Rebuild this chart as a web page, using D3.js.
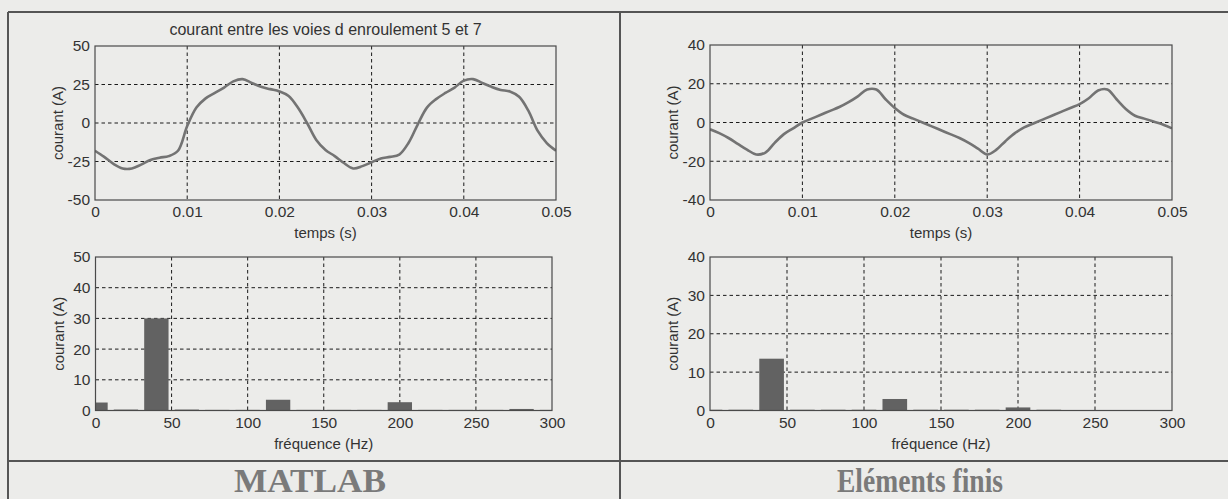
<!DOCTYPE html>
<html><head><meta charset="utf-8">
<script src="https://cdn.jsdelivr.net/npm/d3@7"></script>
<style>
html,body{margin:0;padding:0;background:#ececea;}
svg{display:block;}
</style></head>
<body>
<svg id="chart" width="1228" height="499"></svg>
<script>
// ---- data ----
const timeS = [0,0.001,0.002,0.003,0.004,0.005,0.006,0.007,0.008,0.009,0.010,0.011,0.012,0.013,0.014,0.015,0.016,0.017,0.018,0.019,0.020,0.021,0.022,0.023,0.024,0.025,0.026,0.027,0.028,0.029,0.030,0.031,0.032,0.033,0.034,0.035,0.036,0.037,0.038,0.039,0.040,0.041,0.042,0.043,0.044,0.045,0.046,0.047,0.048,0.049,0.050];
const matlabCurrent = [-18,-22,-26.5,-29.5,-29.5,-27,-24,-22.5,-21.5,-18,-2,10,16,19.5,23,27,28.5,26,23.5,22,20.5,17.5,10,0,-11,-17.5,-21.5,-26,-29.5,-28,-25.5,-23,-22,-20.5,-13,-1,10,15.5,19.5,23,27.5,28.5,26,23.5,21.5,20.5,17,8,-5,-13,-18];
const feCurrent = [-3.5,-5.5,-8,-11,-14,-16.5,-15.5,-10.5,-6,-3,0,2,4,6,8,10.5,13.5,17,17,12,7.5,4,2,0,-2,-4,-6,-8,-10.5,-13.5,-16.5,-14,-9.5,-5.5,-2.5,-0.5,1.5,3.5,5.5,7.5,9.5,12.5,16.5,17,12,7,3.5,2,0.5,-1,-3];
const freqHz = [0,20,40,60,80,100,120,140,160,180,200,220,240,260,280,300];
const matlabSpectrum = [2.6,0.3,30,0.3,0.2,0.2,3.5,0.2,0.2,0.2,2.7,0.2,0.2,0.2,0.5,0.2];
const feSpectrum = [0.2,0.2,13.5,0.2,0.2,0.2,3,0.2,0.2,0.2,0.8,0.2,0.1,0.1,0.1,0.1];
const timeTicks = [0,0.01,0.02,0.03,0.04,0.05];
const freqTicks = [0,50,100,150,200,250,300];
const matlabTimeYTicks = [-50,-25,0,25,50];
const feTimeYTicks = [-40,-20,0,20,40];
const matlabFreqYTicks = [0,10,20,30,40,50];
const feFreqYTicks = [0,10,20,30,40];
const title = "courant entre les voies d enroulement 5 et 7";
const yLabel = "courant (A)";
const timeLabel = "temps (s)";
const freqLabel = "fréquence (Hz)";
const columnLabels = ["MATLAB", "Eléments finis"];

const svg = d3.select("#chart");
const SANS = "'Liberation Sans', Arial, sans-serif";

// table frame
const frame = svg.append("g").attr("stroke","#555").attr("stroke-width",2);
frame.append("line").attr("x1",8).attr("x2",1228).attr("y1",12).attr("y2",12);
frame.append("line").attr("x1",8).attr("x2",1228).attr("y1",461).attr("y2",461);
frame.append("line").attr("x1",8).attr("x2",8).attr("y1",12).attr("y2",499);
frame.append("line").attr("x1",620).attr("x2",620).attr("y1",12).attr("y2",499);

let clipId = 0;
function panel(o){
  const x = d3.scaleLinear().domain(o.xDomain).range([o.left,o.right]);
  const y = d3.scaleLinear().domain(o.yDomain).range([o.bottom,o.top]);
  const g = svg.append("g");
  const id = "clip"+(clipId++);
  g.append("clipPath").attr("id",id).append("rect")
    .attr("x",o.left).attr("y",o.top).attr("width",o.right-o.left).attr("height",o.bottom-o.top);
  const grid = g.append("g").attr("stroke","#1a1a1a").attr("stroke-width",1).attr("stroke-dasharray","3.5,3");
  o.xTicks.slice(1,-1).forEach(t=>grid.append("line").attr("x1",x(t)).attr("x2",x(t)).attr("y1",o.top).attr("y2",o.bottom));
  o.yTicks.slice(1,-1).forEach(t=>grid.append("line").attr("x1",o.left).attr("x2",o.right).attr("y1",y(t)).attr("y2",y(t)));
  const dg = g.append("g").attr("clip-path","url(#"+id+")");
  if(o.type==="line"){
    const line = d3.line().x((d,i)=>x(o.xs[i])).y(d=>y(d)).curve(d3.curveCatmullRom.alpha(0.5));
    dg.append("path").datum(o.ys).attr("d",line).attr("fill","none").attr("stroke","#737373").attr("stroke-width",2.6);
  } else {
    dg.selectAll("rect").data(o.ys).join("rect")
      .attr("x",(d,i)=>x(o.xs[i]-8)).attr("width",(d,i)=>x(o.xs[i]+8)-x(o.xs[i]-8))
      .attr("y",d=>y(d)).attr("height",d=>y(0)-y(d)).attr("fill","#626262");
  }
  const ax = d3.axisBottom(x).tickValues(o.xTicks).tickSize(0).tickPadding(6).tickFormat(d=>String(d));
  const ay = d3.axisLeft(y).tickValues(o.yTicks).tickSize(0).tickPadding(5).tickFormat(d=>String(d));
  const gx = g.append("g").attr("transform","translate(0,"+o.bottom+")").call(ax);
  const gy = g.append("g").attr("transform","translate("+o.left+",0)").call(ay);
  [gx,gy].forEach(a=>{a.select(".domain").remove();a.selectAll("text").style("font-size","15.5px").style("fill","#333").style("font-family",SANS);});
  g.append("rect").attr("x",o.left).attr("y",o.top).attr("width",o.right-o.left).attr("height",o.bottom-o.top)
    .attr("fill","none").attr("stroke","#4a4a4a").attr("stroke-width",1.2);
  g.append("text").attr("x",(o.left+o.right)/2).attr("y",o.bottom+38).attr("text-anchor","middle")
    .style("font-family",SANS).style("font-size","15px").style("fill","#333").text(o.xLabel);
  g.append("text").attr("transform","translate("+(o.left-32)+","+((o.top+o.bottom)/2)+") rotate(-90)")
    .attr("text-anchor","middle").style("font-family",SANS).style("font-size","15px").style("fill","#333").text(yLabel);
  if(o.title) g.append("text").attr("x",(o.left+o.right)/2).attr("y",o.top-11).attr("text-anchor","middle")
    .style("font-family",SANS).style("font-size","16px").style("fill","#333").text(o.title);
}

panel({type:"line",left:95,right:556,top:46,bottom:200,xDomain:[0,0.05],yDomain:[-50,50],xs:timeS,ys:matlabCurrent,xTicks:timeTicks,yTicks:matlabTimeYTicks,xLabel:timeLabel,title:title});
panel({type:"line",left:710,right:1172,top:45,bottom:200,xDomain:[0,0.05],yDomain:[-40,40],xs:timeS,ys:feCurrent,xTicks:timeTicks,yTicks:feTimeYTicks,xLabel:timeLabel});
panel({type:"bar",left:95.5,right:552,top:257,bottom:410.5,xDomain:[0,300],yDomain:[0,50],xs:freqHz,ys:matlabSpectrum,xTicks:freqTicks,yTicks:matlabFreqYTicks,xLabel:freqLabel});
panel({type:"bar",left:710,right:1172,top:257,bottom:410.5,xDomain:[0,300],yDomain:[0,40],xs:freqHz,ys:feSpectrum,xTicks:freqTicks,yTicks:feFreqYTicks,xLabel:freqLabel});

svg.selectAll("text.col").data(columnLabels).join("text").attr("class","col")
  .attr("x",(d,i)=>i===0?310:920).attr("y",492).attr("text-anchor","middle")
  .attr("textLength",(d,i)=>i===0?152:166).attr("lengthAdjust","spacingAndGlyphs")
  .style("font-family","'Liberation Serif', 'Times New Roman', serif").style("font-weight","bold")
  .style("font-size","34px").style("fill","#7a7a7a").text(d=>d);
</script>
</body></html>
